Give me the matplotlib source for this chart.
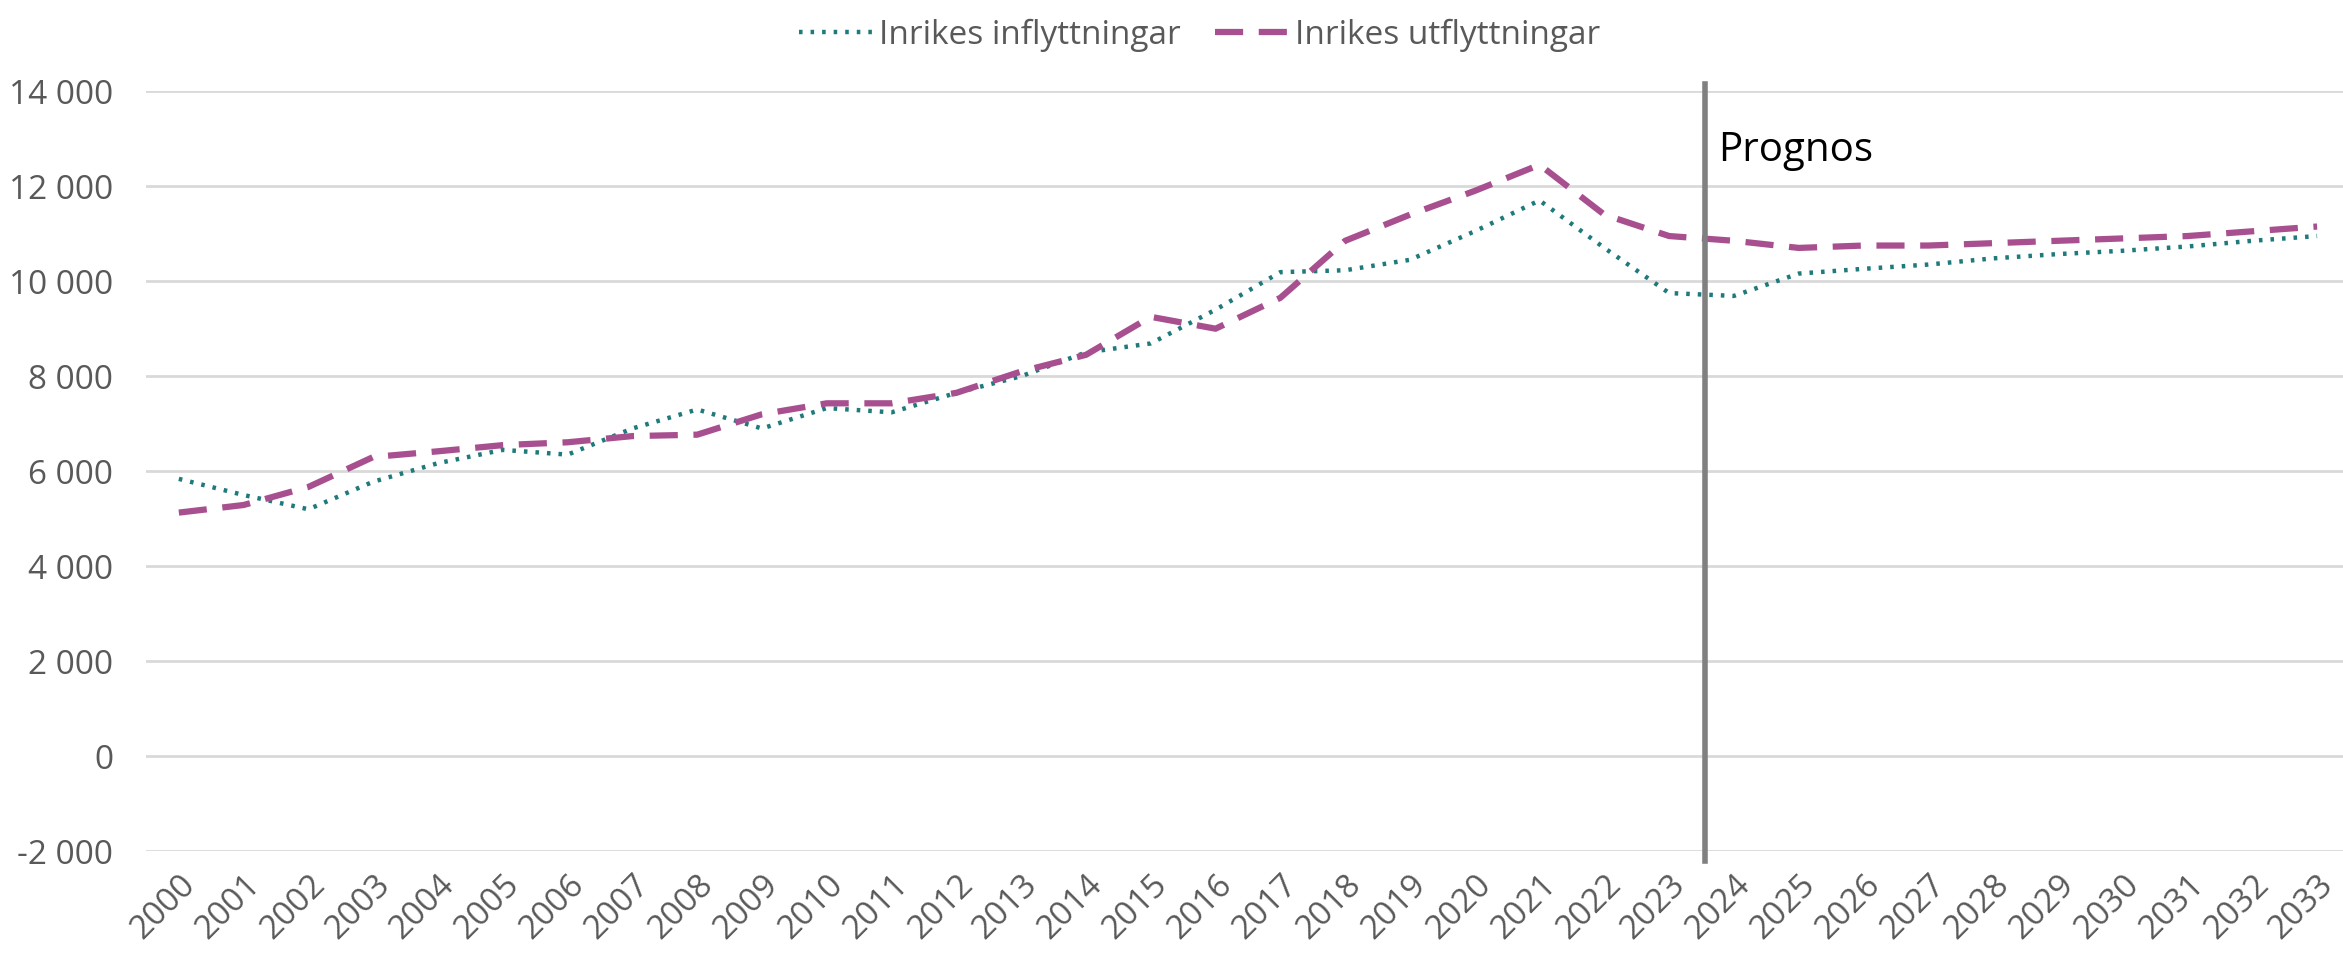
import matplotlib.pyplot as plt
from matplotlib.ticker import FuncFormatter

plt.rcParams['font.family'] = ['Open Sans', 'DejaVu Sans']

years = list(range(2000, 2034))
inflyttningar = [5840, 5500, 5200, 5780, 6170, 6450, 6350, 6900, 7300, 6900,
                 7330, 7240, 7650, 8000, 8500, 8690, 9400, 10190, 10230, 10450,
                 11050, 11700, 10700, 9750, 9690, 10160, 10260, 10350, 10480, 10570,
                 10640, 10730, 10850, 10950]
utflyttningar = [5130, 5290, 5670, 6300, 6420, 6550, 6610, 6740, 6770, 7200,
                 7430, 7430, 7650, 8100, 8450, 9250, 9000, 9650, 10850, 11400,
                 11900, 12450, 11400, 10950, 10850, 10700, 10750, 10750, 10800, 10850,
                 10900, 10950, 11050, 11150]
prognos_x = 2023.55
yticks = list(range(-2000, 14001, 2000))

fig = plt.figure(figsize=(23.43, 9.56), dpi=100)
ax = fig.add_axes([0.0625, 0.1094, 0.9375, 0.7953])

ax.plot(years, inflyttningar, color='#1F7A7C', linestyle=(0, (0.8, 1.8)),
        linewidth=3.2, label='Inrikes inflyttningar')
ax.plot(years, utflyttningar, color='#A8508F', linestyle=(0, (4.5, 2.5)),
        linewidth=4.5, label='Inrikes utflyttningar')

# prognosis marker
ax.plot([prognos_x, prognos_x], [14150, -2200], color='#808080', linewidth=4,
        clip_on=False)
ax.text(prognos_x + 0.2, 12750, 'Prognos', fontsize=29, color='black',
        ha='left', va='center')

ax.set_xlim(1999.5, 2033.4)
ax.set_ylim(-2000, 14000)
ax.set_yticks(yticks)
ax.yaxis.set_major_formatter(FuncFormatter(lambda v, p: f'{int(v):,}'.replace(',', ' ')))
ax.set_xticks(years)
ax.set_xticklabels([str(y) for y in years], rotation=45, ha='right',
                   rotation_mode='anchor')
ax.tick_params(axis='y', length=0, labelsize=24, colors='#595959', pad=24)
ax.tick_params(axis='x', length=0, labelsize=24, colors='#595959', pad=12)
ax.grid(axis='y', color='#D9D9D9', linewidth=2)
ax.set_axisbelow(True)
for s in ax.spines.values():
    s.set_visible(False)

fig.legend(loc='upper center', bbox_to_anchor=(0.512, 1.012), ncol=2,
           frameon=False, fontsize=24, labelcolor='#595959',
           handlelength=2.2, columnspacing=1.0, handletextpad=0.2)

plt.savefig('out.png', dpi=100)
